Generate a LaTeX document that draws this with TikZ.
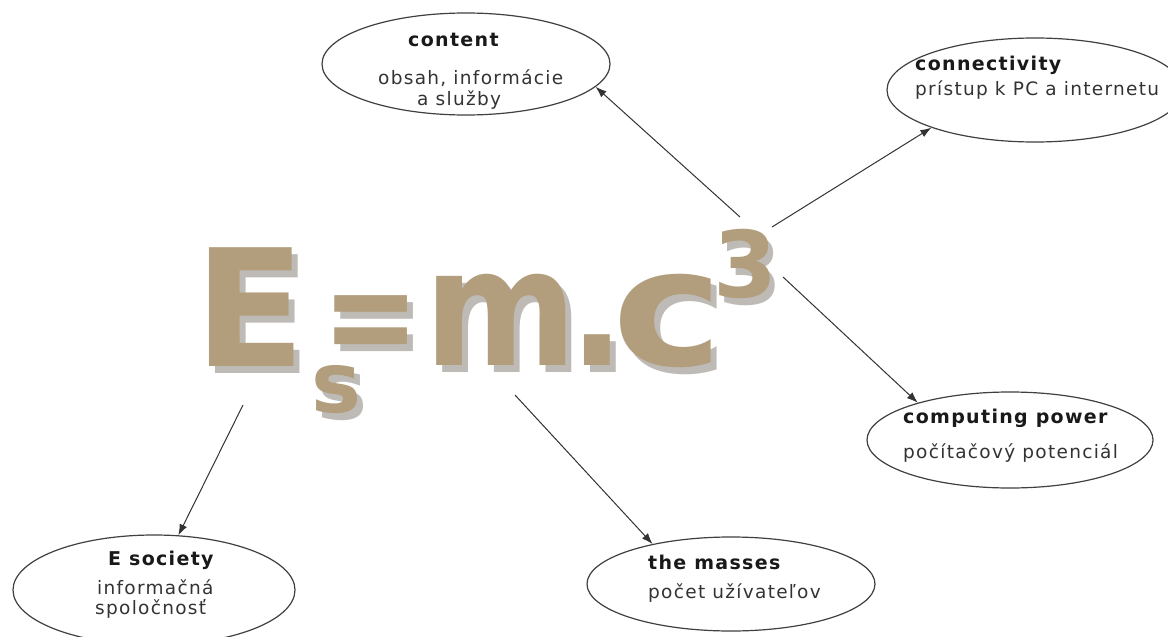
\documentclass[tikz,border=0pt]{standalone}
\usepackage{fontspec}
\setmainfont{DejaVu Sans}
\newfontfamily\lblfont[LetterSpace=7]{DejaVu Sans}
\usetikzlibrary{shapes.geometric,arrows.meta}

\definecolor{formulatan}{RGB}{178,158,124}
\definecolor{formulashade}{RGB}{110,104,96}

\tikzset{
  bubble/.style={ellipse, draw=black!75, line width=1.2pt, inner sep=0pt},
  link/.style={-{Latex[length=11pt,width=8pt]}, line width=1pt, draw=black!80},
  title/.style={anchor=west, inner sep=0pt, text=black!90,
    font=\lblfont\fontsize{19}{22}\bfseries},
  sub/.style={anchor=west, inner sep=0pt, text=black!80,
    font=\lblfont\fontsize{18.5}{21}\selectfont},
  glyph/.style={anchor=base, inner sep=0pt, text=formulatan},
}

% name, x, baseline y, font size, xscale, glyph
\newcommand{\bigglyph}[6]{%
  \node[glyph, text=formulashade!45, xscale=#5,
    font=\fontsize{#4}{#4}\bfseries] (#1shadow) at (#2+6,#3+7) {#6};
  \node[glyph, xscale=#5,
    font=\fontsize{#4}{#4}\bfseries] (#1) at (#2,#3) {#6};
}

\begin{document}
\begin{tikzpicture}[x=1pt, y=-1pt]
  \useasboundingbox (0,0) rectangle (1168,637);
  \clip (0,0) rectangle (1168,637);
  \fill[white] (0,0) rectangle (1168,637);

  % the formula
  \bigglyph{E}{250}{366}{163}{1.0}{E}
  \bigglyph{sub}{336}{412}{84}{1}{s}
  \bigglyph{eq}{371}{365}{145}{0.8}{=}
  \bigglyph{m}{501}{365}{163}{0.9}{m}
  \bigglyph{dot}{597}{365}{163}{0.9}{.}
  \bigglyph{c}{668}{365}{163}{1.15}{c}
  \bigglyph{cube}{745}{297}{92}{1}{3}

  % bubbles
  \node[bubble, minimum width=288pt, minimum height=102pt] (content) at (466,64) {};
  \node[bubble, minimum width=296pt, minimum height=104pt] (connect) at (1035,90) {};
  \node[bubble, minimum width=286pt, minimum height=96pt] (power) at (1010,440) {};
  \node[bubble, minimum width=282pt, minimum height=110pt] (society) at (154,590) {};
  \node[bubble, minimum width=288pt, minimum height=94pt] (masses) at (731,584) {};

  \node[title] (contenttitle) at (408,40) {content};
  \node[sub] (contentline1) at (378,78) {obsah, informácie};
  \node[sub] (contentline2) at (417,100) {a služby};

  \node[title] (connecttitle) at (915,65) {connectivity};
  \node[sub] (connectline) at (915,90) {prístup k PC a internetu};

  \node[title] (powertitle) at (903,418) {computing power};
  \node[sub] (powerline) at (903,453) {počítačový potenciál};

  \node[title] (societytitle) at (108,560) {E society};
  \node[sub] (societyline1) at (97,587) {informačná};
  \node[sub] (societyline2) at (95,609) {spoločnosť};

  \node[title] (massestitle) at (648,562) {the masses};
  \node[sub] (massesline) at (648,593) {počet užívateľov};

  % arrows out of the formula
  \coordinate (fromcontent) at (740,217);
  \coordinate (fromconnect) at (772,227);
  \coordinate (frompower) at (783,277);
  \coordinate (fromsociety) at (243,405);
  \coordinate (frommasses) at (515,395);

  \draw[link] (fromcontent) -- (content.-10);
  \draw[link] (fromconnect) -- (connect.200);
  \draw[link] (frompower) -- (power.158);
  \draw[link] (fromsociety) -- (society.66);
  \draw[link] (frommasses) -- (masses.153);
\end{tikzpicture}
\end{document}
